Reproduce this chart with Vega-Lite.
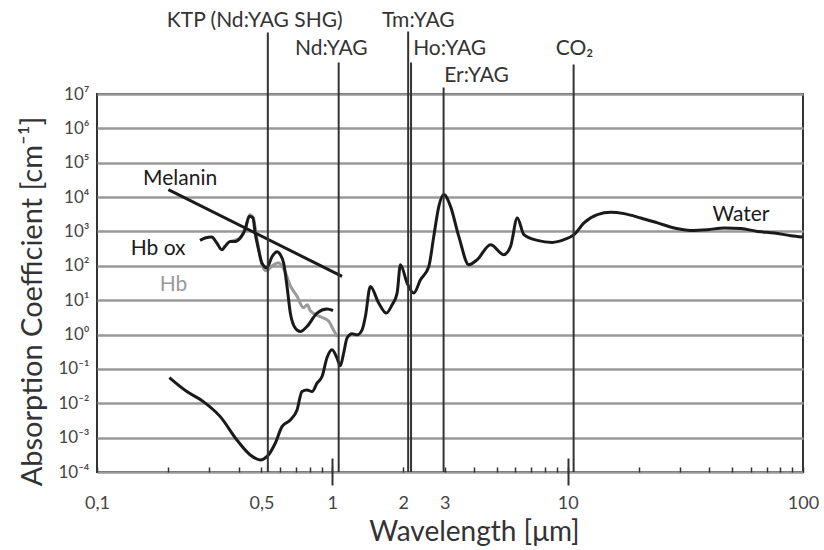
{
  "$schema": "https://vega.github.io/schema/vega-lite/v6.json",
  "width": 706,
  "height": 378,
  "autosize": "none",
  "padding": {"left": 97, "top": 94, "right": 21, "bottom": 78},
  "background": "white",
  "config": {
    "font": "Lato",
    "view": {"stroke": "#333", "strokeWidth": 2},
    "axis": {"domain": false, "labelFont": "Lato", "titleFont": "Lato", "labelColor": "#444", "titleColor": "#333", "titleFontWeight": "normal"}
  },
  "resolve": {"axis": {"x": "independent"}},
  "datasets": {
    "curves": [
      {"series": "Water", "wl": 0.203, "mu": 0.056},
      {"series": "Water", "wl": 0.241, "mu": 0.0219},
      {"series": "Water", "wl": 0.283, "mu": 0.0112},
      {"series": "Water", "wl": 0.334, "mu": 0.00409},
      {"series": "Water", "wl": 0.393, "mu": 0.000857},
      {"series": "Water", "wl": 0.448, "mu": 0.000313},
      {"series": "Water", "wl": 0.494, "mu": 0.000224},
      {"series": "Water", "wl": 0.527, "mu": 0.000279},
      {"series": "Water", "wl": 0.572, "mu": 0.000687},
      {"series": "Water", "wl": 0.611, "mu": 0.00209},
      {"series": "Water", "wl": 0.663, "mu": 0.00328},
      {"series": "Water", "wl": 0.708, "mu": 0.00641},
      {"series": "Water", "wl": 0.743, "mu": 0.0219},
      {"series": "Water", "wl": 0.78, "mu": 0.0245},
      {"series": "Water", "wl": 0.82, "mu": 0.0219},
      {"series": "Water", "wl": 0.861, "mu": 0.0385},
      {"series": "Water", "wl": 0.904, "mu": 0.0599},
      {"series": "Water", "wl": 0.949, "mu": 0.21},
      {"series": "Water", "wl": 0.997, "mu": 0.359},
      {"series": "Water", "wl": 1.047, "mu": 0.206},
      {"series": "Water", "wl": 1.081, "mu": 0.123},
      {"series": "Water", "wl": 1.117, "mu": 0.288},
      {"series": "Water", "wl": 1.155, "mu": 0.787},
      {"series": "Water", "wl": 1.213, "mu": 1.05},
      {"series": "Water", "wl": 1.274, "mu": 0.98},
      {"series": "Water", "wl": 1.338, "mu": 1.37},
      {"series": "Water", "wl": 1.382, "mu": 3.36},
      {"series": "Water", "wl": 1.451, "mu": 25.1},
      {"series": "Water", "wl": 1.574, "mu": 8.24},
      {"series": "Water", "wl": 1.697, "mu": 4.22},
      {"series": "Water", "wl": 1.795, "mu": 7.36},
      {"series": "Water", "wl": 1.885, "mu": 16.1},
      {"series": "Water", "wl": 1.947, "mu": 108},
      {"series": "Water", "wl": 2.079, "mu": 31.5},
      {"series": "Water", "wl": 2.218, "mu": 16.1},
      {"series": "Water", "wl": 2.369, "mu": 39.4},
      {"series": "Water", "wl": 2.57, "mu": 96},
      {"series": "Water", "wl": 2.698, "mu": 719},
      {"series": "Water", "wl": 2.835, "mu": 5380},
      {"series": "Water", "wl": 2.976, "mu": 11800},
      {"series": "Water", "wl": 3.178, "mu": 5380},
      {"series": "Water", "wl": 3.446, "mu": 719},
      {"series": "Water", "wl": 3.802, "mu": 108},
      {"series": "Water", "wl": 4.128, "mu": 151},
      {"series": "Water", "wl": 4.702, "mu": 412},
      {"series": "Water", "wl": 5.357, "mu": 211},
      {"series": "Water", "wl": 5.72, "mu": 367},
      {"series": "Water", "wl": 6.109, "mu": 2470},
      {"series": "Water", "wl": 6.516, "mu": 806},
      {"series": "Water", "wl": 7.43, "mu": 550},
      {"series": "Water", "wl": 8.606, "mu": 481},
      {"series": "Water", "wl": 9.646, "mu": 576},
      {"series": "Water", "wl": 10.64, "mu": 806},
      {"series": "Water", "wl": 11.73, "mu": 1770},
      {"series": "Water", "wl": 13.38, "mu": 3080},
      {"series": "Water", "wl": 15.24, "mu": 3600},
      {"series": "Water", "wl": 17.36, "mu": 3300},
      {"series": "Water", "wl": 20.45, "mu": 2470},
      {"series": "Water", "wl": 24.08, "mu": 1770},
      {"series": "Water", "wl": 28.35, "mu": 1260},
      {"series": "Water", "wl": 33.38, "mu": 1070},
      {"series": "Water", "wl": 39.3, "mu": 1130},
      {"series": "Water", "wl": 46.26, "mu": 1260},
      {"series": "Water", "wl": 54.47, "mu": 1210},
      {"series": "Water", "wl": 64.15, "mu": 1000},
      {"series": "Water", "wl": 75.5, "mu": 903},
      {"series": "Water", "wl": 88.9, "mu": 753},
      {"series": "Water", "wl": 99.7, "mu": 690},
      {"series": "Hb", "wl": 0.368, "mu": 514},
      {"series": "Hb", "wl": 0.406, "mu": 646},
      {"series": "Hb", "wl": 0.426, "mu": 1210},
      {"series": "Hb", "wl": 0.446, "mu": 3080},
      {"series": "Hb", "wl": 0.461, "mu": 2520},
      {"series": "Hb", "wl": 0.475, "mu": 806},
      {"series": "Hb", "wl": 0.489, "mu": 258},
      {"series": "Hb", "wl": 0.504, "mu": 101},
      {"series": "Hb", "wl": 0.524, "mu": 72},
      {"series": "Hb", "wl": 0.556, "mu": 101},
      {"series": "Hb", "wl": 0.589, "mu": 123},
      {"series": "Hb", "wl": 0.625, "mu": 77},
      {"series": "Hb", "wl": 0.663, "mu": 26.3},
      {"series": "Hb", "wl": 0.71, "mu": 12.6},
      {"series": "Hb", "wl": 0.753, "mu": 6.01},
      {"series": "Hb", "wl": 0.783, "mu": 7.36},
      {"series": "Hb", "wl": 0.806, "mu": 4.92},
      {"series": "Hb", "wl": 0.889, "mu": 3.29},
      {"series": "Hb", "wl": 0.962, "mu": 2.51},
      {"series": "Hb", "wl": 1.01, "mu": 1.37},
      {"series": "Hb", "wl": 1.05, "mu": 0.86},
      {"series": "Hb ox", "wl": 0.274, "mu": 550},
      {"series": "Hb ox", "wl": 0.288, "mu": 646},
      {"series": "Hb ox", "wl": 0.307, "mu": 690},
      {"series": "Hb ox", "wl": 0.323, "mu": 461},
      {"series": "Hb ox", "wl": 0.339, "mu": 294},
      {"series": "Hb ox", "wl": 0.35, "mu": 367},
      {"series": "Hb ox", "wl": 0.368, "mu": 514},
      {"series": "Hb ox", "wl": 0.387, "mu": 514},
      {"series": "Hb ox", "wl": 0.406, "mu": 646},
      {"series": "Hb ox", "wl": 0.426, "mu": 1130},
      {"series": "Hb ox", "wl": 0.444, "mu": 2750},
      {"series": "Hb ox", "wl": 0.46, "mu": 2470},
      {"series": "Hb ox", "wl": 0.47, "mu": 903},
      {"series": "Hb ox", "wl": 0.486, "mu": 294},
      {"series": "Hb ox", "wl": 0.502, "mu": 121},
      {"series": "Hb ox", "wl": 0.527, "mu": 88},
      {"series": "Hb ox", "wl": 0.554, "mu": 184},
      {"series": "Hb ox", "wl": 0.582, "mu": 258},
      {"series": "Hb ox", "wl": 0.601, "mu": 211},
      {"series": "Hb ox", "wl": 0.621, "mu": 121},
      {"series": "Hb ox", "wl": 0.642, "mu": 25.1},
      {"series": "Hb ox", "wl": 0.663, "mu": 4.22},
      {"series": "Hb ox", "wl": 0.696, "mu": 1.54},
      {"series": "Hb ox", "wl": 0.731, "mu": 1.23},
      {"series": "Hb ox", "wl": 0.78, "mu": 1.71},
      {"series": "Hb ox", "wl": 0.861, "mu": 4.22},
      {"series": "Hb ox", "wl": 0.949, "mu": 5.51},
      {"series": "Hb ox", "wl": 1.007, "mu": 5.01},
      {"series": "Melanin", "wl": 0.201, "mu": 16400},
      {"series": "Melanin", "wl": 1.1, "mu": 49.4}
    ],
    "lasers": [
      {"laser": "KTP", "wl": 0.532, "bottom": 0.0001, "top": 620000000},
      {"laser": "Nd:YAG", "wl": 1.064, "bottom": 0.0001, "top": 83000000},
      {"laser": "Tm:YAG", "wl": 2.1, "bottom": 0.0001, "top": 660000000},
      {"laser": "Ho:YAG", "wl": 2.16, "bottom": 0.0001, "top": 83000000},
      {"laser": "Er:YAG", "wl": 2.97, "bottom": 0.0001, "top": 15500000},
      {"laser": "CO2", "wl": 10.6, "bottom": 0.0001, "top": 72000000}
    ],
    "labels": [
      {"text": "KTP (Nd:YAG SHG)", "series": "laser", "wl": 0.468, "mu": 1290000000},
      {"text": "Nd:YAG", "series": "laser", "wl": 0.99, "mu": 198000000},
      {"text": "Tm:YAG", "series": "laser", "wl": 2.32, "mu": 1290000000},
      {"text": "Ho:YAG", "series": "laser", "wl": 3.15, "mu": 198000000},
      {"text": "Er:YAG", "series": "laser", "wl": 4.1, "mu": 32400000},
      {"text": "CO₂", "series": "laser", "wl": 10.7, "mu": 198000000},
      {"text": "Melanin", "series": "Melanin", "wl": 0.2255, "mu": 34500},
      {"text": "Hb ox", "series": "Hb ox", "wl": 0.1818, "mu": 315},
      {"text": "Hb", "series": "Hb", "wl": 0.2115, "mu": 28.1},
      {"text": "Water", "series": "Water", "wl": 54.5, "mu": 3080}
    ]
  },
  "layer": [
    {
      "data": {"name": "curves"},
      "mark": {"type": "line", "strokeWidth": 3, "interpolate": "monotone"},
      "encoding": {
        "x": {
          "field": "wl", "type": "quantitative",
          "scale": {"type": "log", "domain": [0.1, 100]},
          "axis": {
            "orient": "bottom", "offset": -5,
            "values": [0.1,0.2,0.3,0.4,0.5,0.6,0.7,0.8,0.9,1,2,3,4,5,6,7,8,9,10,20,30,40,50,60,70,80,90,100],
            "labelExpr": "datum.value==0.1?'0,1':datum.value==0.5?'0,5':datum.value==1?'1':datum.value==2?'2':datum.value==3?'3':datum.value==10?'10':datum.value==100?'100':''",
            "tickSize": 5, "tickColor": "#333", "tickWidth": 1.5,
            "labelPadding": 22, "labelFontSize": 18, "labelFlush": false, "labelOverlap": false,
            "grid": false,
            "title": "Wavelength [μm]", "titleFontSize": 28, "titlePadding": 6, "titleX": 377
          }
        },
        "y": {
          "field": "mu", "type": "quantitative",
          "scale": {"type": "log", "domain": [0.0001, 10000000]},
          "axis": {
            "values": [0.0001,0.001,0.01,0.1,1,10,100,1000,10000,100000,1000000,10000000],
            "labelExpr": "['10⁻⁴','10⁻³','10⁻²','10⁻¹','10⁰','10¹','10²','10³','10⁴','10⁵','10⁶','10⁷'][round(log(datum.value)/LN10)+4]",
            "ticks": false, "labelPadding": 8, "labelFontSize": 17,
            "grid": true, "gridColor": "#999", "gridWidth": 2.5,
            "title": "Absorption Coefficient [cm⁻¹]", "titleFontSize": 29, "titlePadding": 10, "titleY": 207
          }
        },
        "color": {"field": "series", "type": "nominal", "legend": null,
          "scale": {"domain": ["Water", "Hb ox", "Hb", "Melanin", "laser"], "range": ["#1a1a1a", "#1a1a1a", "#9a9a9a", "#1a1a1a", "#333333"]}}
      }
    },
    {
      "data": {"name": "lasers"},
      "mark": {"type": "rule", "color": "#333", "strokeWidth": 2},
      "encoding": {
        "x": {"field": "wl", "type": "quantitative",
          "axis": {"orient": "bottom", "offset": -14, "values": [1, 10], "tickSize": 27, "tickColor": "#333", "tickWidth": 2, "labels": false, "title": null, "grid": false, "domain": false}},
        "y": {"field": "bottom", "type": "quantitative"},
        "y2": {"field": "top"}
      }
    },
    {
      "data": {"name": "labels"},
      "mark": {"type": "text", "fontSize": 21, "align": "center", "baseline": "middle"},
      "encoding": {
        "x": {"field": "wl", "type": "quantitative", "axis": null},
        "y": {"field": "mu", "type": "quantitative"},
        "text": {"field": "text"},
        "color": {"field": "series", "type": "nominal", "legend": null}
      }
    }
  ]
}
